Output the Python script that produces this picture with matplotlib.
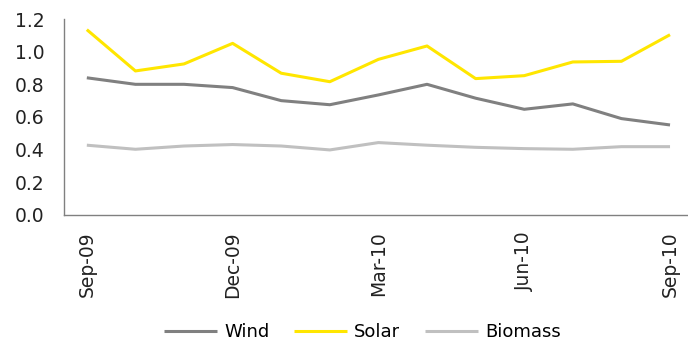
import matplotlib
matplotlib.use("Agg")
import matplotlib.pyplot as plt

months = ["Sep-09", "Oct-09", "Nov-09", "Dec-09", "Jan-10", "Feb-10", "Mar-10",
          "Apr-10", "May-10", "Jun-10", "Jul-10", "Aug-10", "Sep-10"]
wind = [0.84, 0.80, 0.80, 0.78, 0.70, 0.675, 0.735, 0.80, 0.715, 0.647, 0.68, 0.59, 0.551]
solar = [1.135, 0.882, 0.925, 1.051, 0.868, 0.816, 0.953, 1.035, 0.835, 0.853, 0.937, 0.941, 1.104]
biomass = [0.427, 0.402, 0.422, 0.431, 0.422, 0.398, 0.443, 0.427, 0.414, 0.406, 0.402, 0.418, 0.418]
y_ticks = [0.0, 0.2, 0.4, 0.6, 0.8, 1.0, 1.2]

plt.rcParams["font.family"] = ["DejaVu Sans"]

fig = plt.figure(figsize=(6.88, 3.40), dpi=100)
ax = fig.add_axes([0.093, 0.368, 0.907, 0.576])

x = list(range(len(months)))
ax.plot(x, wind, color="#808080", lw=2.2, label="Wind", solid_capstyle="butt")
ax.plot(x, solar, color="#FFE600", lw=2.2, label="Solar", solid_capstyle="butt")
ax.plot(x, biomass, color="#C0C0C0", lw=2.2, label="Biomass", solid_capstyle="butt")

ax.set_ylim(0, 1.2)
ax.set_yticks(y_ticks)
ax.set_yticklabels([f"{v:.1f}" for v in y_ticks], fontsize=13.5, color="#222222")
ax.set_xlim(-0.47, 12.37)
ax.set_xticks(x[::3])
ax.set_xticklabels(months[::3], rotation=90, fontsize=13.5, color="#222222")
ax.tick_params(length=0)
ax.tick_params(axis="x", pad=12)
ax.tick_params(axis="y", pad=14)

for s in ["top", "right"]:
    ax.spines[s].set_visible(False)
for s in ["left", "bottom"]:
    ax.spines[s].set_color("#808080")
    ax.spines[s].set_linewidth(1.0)

fig.legend(loc="center", bbox_to_anchor=(0.527, 0.0235), ncol=3, frameon=False,
           fontsize=13, handlelength=2.9, handletextpad=0.4, columnspacing=1.4,
           borderpad=0, borderaxespad=0)

fig.savefig("out.png", dpi=100)
